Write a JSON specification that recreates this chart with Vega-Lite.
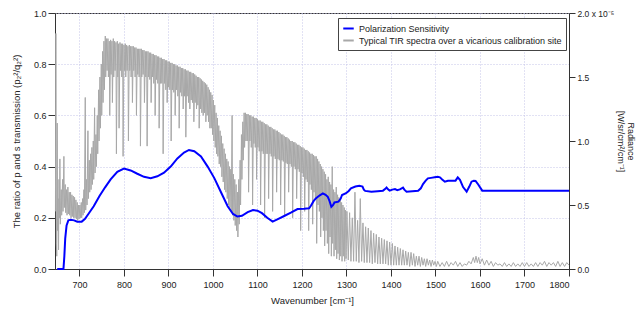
{
"$schema": "https://vega.github.io/schema/vega-lite/v6.json",
"width": 514, "height": 256,
"autosize": "none",
"padding": {"left": 55, "top": 13, "right": 75, "bottom": 44},
"background": "white",
"config": {
 "font": "Liberation Sans",
 "view": {"stroke": "#333", "strokeWidth": 1},
 "axis": {"labelFont": "Liberation Sans", "titleFont": "Liberation Sans", "labelFontSize": 9, "titleFontSize": 9.5, "titleFontWeight": "normal", "labelColor": "#222", "titleColor": "#222", "domainColor": "#333", "tickColor": "#333", "tickSize": 7, "gridColor": "#c4c4e8", "gridDash": [1, 2], "gridWidth": 1}
},
"datasets": {
 "spectrum": [
{"wn":646,"rad":0.45},{"wn":647,"rad":1.84},{"wn":648,"rad":0.2},{"wn":649,"rad":0.1},{"wn":650,"rad":1.14},{"wn":651,"rad":0.3},{"wn":652,"rad":0.55},{"wn":653,"rad":0.15},{"wn":654,"rad":0.7},{"wn":655,"rad":0.4},{"wn":656,"rad":0.86},{"wn":657,"rad":0.35},{"wn":659,"rad":0.62},{"wn":660,"rad":0.42},{"wn":662,"rad":0.7},{"wn":663,"rad":0.45},{"wn":665,"rad":0.88},{"wn":666,"rad":0.48},{"wn":668,"rad":0.66},{"wn":669,"rad":0.44},{"wn":671,"rad":0.62},{"wn":672,"rad":0.42},{"wn":674,"rad":0.64},{"wn":675,"rad":0.43},{"wn":677,"rad":0.6},{"wn":678,"rad":0.42},{"wn":680,"rad":0.6},{"wn":681,"rad":0.4},{"wn":683,"rad":0.58},{"wn":684,"rad":0.41},{"wn":686,"rad":0.57},{"wn":687,"rad":0.4},{"wn":689,"rad":0.56},{"wn":690,"rad":0.4},{"wn":692,"rad":0.54},{"wn":693,"rad":0.39},{"wn":695,"rad":0.52},{"wn":696,"rad":0.38},{"wn":698,"rad":0.5},{"wn":699,"rad":0.39},{"wn":701,"rad":0.5},{"wn":702,"rad":0.4},{"wn":704,"rad":0.52},{"wn":705,"rad":0.4},{"wn":707,"rad":0.55},{"wn":708,"rad":0.42},{"wn":710,"rad":0.62},{"wn":711,"rad":0.44},{"wn":713,"rad":1.34},{"wn":714,"rad":0.46},{"wn":716,"rad":0.7},{"wn":717,"rad":0.5},{"wn":719,"rad":1.08},{"wn":720,"rad":0.55},{"wn":722,"rad":0.85},{"wn":723,"rad":0.6},{"wn":725,"rad":0.9},{"wn":726,"rad":0.62},{"wn":728,"rad":0.95},{"wn":729,"rad":0.66},{"wn":731,"rad":1.0},{"wn":732,"rad":0.7},{"wn":734,"rad":1.26},{"wn":735,"rad":0.75},{"wn":737,"rad":1.05},{"wn":738,"rad":0.8},{"wn":740,"rad":1.2},{"wn":741,"rad":0.9},{"wn":743,"rad":1.4},{"wn":744,"rad":1.0},{"wn":746,"rad":1.5},{"wn":747,"rad":1.1},{"wn":749,"rad":1.6},{"wn":750,"rad":1.2},{"wn":752,"rad":1.7},{"wn":753,"rad":1.3},{"wn":755,"rad":1.78},{"wn":756,"rad":1.4},{"wn":758,"rad":1.82},{"wn":759,"rad":1.5},{"wn":761,"rad":1.8},{"wn":762,"rad":1.55},{"wn":764,"rad":1.8},{"wn":765,"rad":1.5},{"wn":767,"rad":1.78},{"wn":768,"rad":1.2},{"wn":770,"rad":1.79},{"wn":771,"rad":1.52},{"wn":773,"rad":1.78},{"wn":774,"rad":1.3},{"wn":776,"rad":1.8},{"wn":777,"rad":1.5},{"wn":779,"rad":1.78},{"wn":780,"rad":1.55},{"wn":782,"rad":1.77},{"wn":783,"rad":0.9},{"wn":785,"rad":1.78},{"wn":786,"rad":1.5},{"wn":788,"rad":1.76},{"wn":789,"rad":1.1},{"wn":791,"rad":1.77},{"wn":792,"rad":1.55},{"wn":794,"rad":1.76},{"wn":795,"rad":1.5},{"wn":797,"rad":1.76},{"wn":798,"rad":0.88},{"wn":800,"rad":1.75},{"wn":801,"rad":1.55},{"wn":803,"rad":1.76},{"wn":804,"rad":1.5},{"wn":806,"rad":1.75},{"wn":807,"rad":1.55},{"wn":809,"rad":1.74},{"wn":810,"rad":1.0},{"wn":812,"rad":1.75},{"wn":813,"rad":1.55},{"wn":815,"rad":1.74},{"wn":816,"rad":1.5},{"wn":818,"rad":1.74},{"wn":819,"rad":1.3},{"wn":821,"rad":1.74},{"wn":822,"rad":1.55},{"wn":824,"rad":1.73},{"wn":825,"rad":1.5},{"wn":827,"rad":1.73},{"wn":828,"rad":1.2},{"wn":830,"rad":1.72},{"wn":831,"rad":1.52},{"wn":833,"rad":1.72},{"wn":834,"rad":1.5},{"wn":836,"rad":1.72},{"wn":837,"rad":0.96},{"wn":839,"rad":1.72},{"wn":840,"rad":1.5},{"wn":842,"rad":1.71},{"wn":843,"rad":1.52},{"wn":845,"rad":1.71},{"wn":846,"rad":1.3},{"wn":848,"rad":1.7},{"wn":849,"rad":1.5},{"wn":851,"rad":1.7},{"wn":852,"rad":0.96},{"wn":854,"rad":1.7},{"wn":855,"rad":1.5},{"wn":857,"rad":1.69},{"wn":858,"rad":1.48},{"wn":860,"rad":1.69},{"wn":861,"rad":1.3},{"wn":863,"rad":1.68},{"wn":864,"rad":1.5},{"wn":866,"rad":1.68},{"wn":867,"rad":1.45},{"wn":869,"rad":1.67},{"wn":870,"rad":1.2},{"wn":872,"rad":1.67},{"wn":873,"rad":1.48},{"wn":875,"rad":1.66},{"wn":876,"rad":1.45},{"wn":878,"rad":1.66},{"wn":879,"rad":1.1},{"wn":881,"rad":1.65},{"wn":882,"rad":1.45},{"wn":884,"rad":1.65},{"wn":885,"rad":1.45},{"wn":887,"rad":1.64},{"wn":888,"rad":0.9},{"wn":890,"rad":1.64},{"wn":891,"rad":1.45},{"wn":893,"rad":1.63},{"wn":894,"rad":1.4},{"wn":896,"rad":1.63},{"wn":897,"rad":1.3},{"wn":899,"rad":1.62},{"wn":900,"rad":1.42},{"wn":902,"rad":1.62},{"wn":903,"rad":1.4},{"wn":905,"rad":1.61},{"wn":906,"rad":1.0},{"wn":908,"rad":1.61},{"wn":909,"rad":1.4},{"wn":911,"rad":1.6},{"wn":912,"rad":1.38},{"wn":914,"rad":1.6},{"wn":915,"rad":1.2},{"wn":917,"rad":1.59},{"wn":918,"rad":1.4},{"wn":920,"rad":1.59},{"wn":921,"rad":1.35},{"wn":923,"rad":1.58},{"wn":924,"rad":1.1},{"wn":926,"rad":1.58},{"wn":927,"rad":1.38},{"wn":929,"rad":1.57},{"wn":930,"rad":1.35},{"wn":932,"rad":1.57},{"wn":933,"rad":1.25},{"wn":935,"rad":1.56},{"wn":936,"rad":1.35},{"wn":938,"rad":1.56},{"wn":939,"rad":1.03},{"wn":941,"rad":1.55},{"wn":942,"rad":1.35},{"wn":944,"rad":1.55},{"wn":945,"rad":1.3},{"wn":947,"rad":1.54},{"wn":948,"rad":1.25},{"wn":950,"rad":1.54},{"wn":951,"rad":1.32},{"wn":953,"rad":1.53},{"wn":954,"rad":1.3},{"wn":956,"rad":1.53},{"wn":957,"rad":1.15},{"wn":959,"rad":1.52},{"wn":960,"rad":1.3},{"wn":962,"rad":1.51},{"wn":963,"rad":1.25},{"wn":965,"rad":1.5},{"wn":966,"rad":1.28},{"wn":968,"rad":1.5},{"wn":969,"rad":1.1},{"wn":971,"rad":1.49},{"wn":972,"rad":1.25},{"wn":974,"rad":1.48},{"wn":975,"rad":1.22},{"wn":977,"rad":1.47},{"wn":978,"rad":1.2},{"wn":980,"rad":1.46},{"wn":981,"rad":1.22},{"wn":983,"rad":1.45},{"wn":984,"rad":1.15},{"wn":986,"rad":1.44},{"wn":987,"rad":1.2},{"wn":989,"rad":1.42},{"wn":990,"rad":1.15},{"wn":992,"rad":1.4},{"wn":993,"rad":1.1},{"wn":995,"rad":1.38},{"wn":996,"rad":1.1},{"wn":998,"rad":1.36},{"wn":999,"rad":1.05},{"wn":1001,"rad":1.32},{"wn":1002,"rad":1.0},{"wn":1004,"rad":1.28},{"wn":1005,"rad":0.95},{"wn":1007,"rad":1.22},{"wn":1008,"rad":0.9},{"wn":1010,"rad":1.18},{"wn":1011,"rad":0.88},{"wn":1013,"rad":1.12},{"wn":1014,"rad":0.82},{"wn":1016,"rad":1.08},{"wn":1017,"rad":0.8},{"wn":1019,"rad":1.04},{"wn":1020,"rad":0.72},{"wn":1022,"rad":0.98},{"wn":1023,"rad":0.68},{"wn":1025,"rad":0.94},{"wn":1026,"rad":0.62},{"wn":1028,"rad":0.9},{"wn":1029,"rad":0.6},{"wn":1031,"rad":0.86},{"wn":1032,"rad":0.55},{"wn":1034,"rad":0.84},{"wn":1035,"rad":0.5},{"wn":1037,"rad":0.8},{"wn":1038,"rad":0.48},{"wn":1040,"rad":0.78},{"wn":1041,"rad":0.45},{"wn":1043,"rad":1.2},{"wn":1044,"rad":0.42},{"wn":1046,"rad":0.74},{"wn":1047,"rad":0.38},{"wn":1049,"rad":0.7},{"wn":1050,"rad":0.34},{"wn":1052,"rad":0.66},{"wn":1053,"rad":0.3},{"wn":1055,"rad":0.6},{"wn":1056,"rad":0.25},{"wn":1058,"rad":0.7},{"wn":1059,"rad":0.35},{"wn":1061,"rad":0.85},{"wn":1062,"rad":0.5},{"wn":1064,"rad":1.05},{"wn":1065,"rad":0.7},{"wn":1067,"rad":1.15},{"wn":1068,"rad":0.85},{"wn":1070,"rad":1.22},{"wn":1071,"rad":0.95},{"wn":1073,"rad":1.22},{"wn":1074,"rad":1.0},{"wn":1076,"rad":1.21},{"wn":1077,"rad":1.0},{"wn":1079,"rad":1.21},{"wn":1080,"rad":0.6},{"wn":1082,"rad":1.2},{"wn":1083,"rad":1.0},{"wn":1085,"rad":1.2},{"wn":1086,"rad":0.95},{"wn":1088,"rad":1.19},{"wn":1089,"rad":0.5},{"wn":1091,"rad":1.19},{"wn":1092,"rad":0.98},{"wn":1094,"rad":1.18},{"wn":1095,"rad":0.95},{"wn":1097,"rad":1.18},{"wn":1098,"rad":0.7},{"wn":1100,"rad":1.17},{"wn":1101,"rad":0.95},{"wn":1103,"rad":1.16},{"wn":1104,"rad":0.92},{"wn":1106,"rad":1.16},{"wn":1107,"rad":0.5},{"wn":1109,"rad":1.15},{"wn":1110,"rad":0.92},{"wn":1112,"rad":1.15},{"wn":1113,"rad":0.9},{"wn":1115,"rad":1.14},{"wn":1116,"rad":0.4},{"wn":1118,"rad":1.13},{"wn":1119,"rad":0.9},{"wn":1121,"rad":1.13},{"wn":1122,"rad":0.9},{"wn":1124,"rad":1.12},{"wn":1125,"rad":0.55},{"wn":1127,"rad":1.11},{"wn":1128,"rad":0.9},{"wn":1130,"rad":1.11},{"wn":1131,"rad":0.88},{"wn":1133,"rad":1.1},{"wn":1134,"rad":0.45},{"wn":1136,"rad":1.09},{"wn":1137,"rad":0.88},{"wn":1139,"rad":1.09},{"wn":1140,"rad":0.86},{"wn":1142,"rad":1.08},{"wn":1143,"rad":0.6},{"wn":1145,"rad":1.08},{"wn":1146,"rad":0.86},{"wn":1148,"rad":1.07},{"wn":1149,"rad":0.85},{"wn":1151,"rad":1.06},{"wn":1152,"rad":0.5},{"wn":1154,"rad":1.05},{"wn":1155,"rad":0.85},{"wn":1157,"rad":1.05},{"wn":1158,"rad":0.84},{"wn":1160,"rad":1.04},{"wn":1161,"rad":0.42},{"wn":1163,"rad":1.03},{"wn":1164,"rad":0.83},{"wn":1166,"rad":1.03},{"wn":1167,"rad":0.82},{"wn":1169,"rad":1.02},{"wn":1170,"rad":0.6},{"wn":1172,"rad":1.01},{"wn":1173,"rad":0.82},{"wn":1175,"rad":1.0},{"wn":1176,"rad":0.8},{"wn":1178,"rad":1.0},{"wn":1179,"rad":0.4},{"wn":1181,"rad":0.99},{"wn":1182,"rad":0.8},{"wn":1184,"rad":0.99},{"wn":1185,"rad":0.78},{"wn":1187,"rad":0.98},{"wn":1188,"rad":0.55},{"wn":1190,"rad":0.97},{"wn":1191,"rad":0.78},{"wn":1193,"rad":0.97},{"wn":1194,"rad":0.76},{"wn":1196,"rad":0.96},{"wn":1197,"rad":0.3},{"wn":1199,"rad":0.95},{"wn":1200,"rad":0.75},{"wn":1202,"rad":0.95},{"wn":1203,"rad":0.72},{"wn":1205,"rad":0.94},{"wn":1206,"rad":0.45},{"wn":1208,"rad":0.93},{"wn":1209,"rad":0.7},{"wn":1211,"rad":0.93},{"wn":1212,"rad":0.68},{"wn":1214,"rad":0.92},{"wn":1215,"rad":0.3},{"wn":1217,"rad":0.91},{"wn":1218,"rad":0.66},{"wn":1220,"rad":0.9},{"wn":1221,"rad":0.62},{"wn":1223,"rad":0.9},{"wn":1224,"rad":0.35},{"wn":1226,"rad":0.89},{"wn":1227,"rad":0.6},{"wn":1229,"rad":0.88},{"wn":1230,"rad":0.55},{"wn":1232,"rad":0.88},{"wn":1233,"rad":0.2},{"wn":1235,"rad":0.86},{"wn":1236,"rad":0.5},{"wn":1238,"rad":0.84},{"wn":1239,"rad":0.45},{"wn":1241,"rad":0.82},{"wn":1242,"rad":0.25},{"wn":1244,"rad":0.8},{"wn":1245,"rad":0.4},{"wn":1247,"rad":0.78},{"wn":1248,"rad":0.3},{"wn":1250,"rad":0.76},{"wn":1251,"rad":0.18},{"wn":1253,"rad":0.74},{"wn":1254,"rad":0.3},{"wn":1256,"rad":0.7},{"wn":1257,"rad":0.2},{"wn":1259,"rad":0.72},{"wn":1260,"rad":0.12},{"wn":1262,"rad":0.68},{"wn":1263,"rad":0.25},{"wn":1265,"rad":0.66},{"wn":1266,"rad":0.1},{"wn":1268,"rad":0.8},{"wn":1269,"rad":0.2},{"wn":1271,"rad":0.62},{"wn":1272,"rad":0.1},{"wn":1274,"rad":0.6},{"wn":1275,"rad":0.15},{"wn":1277,"rad":0.64},{"wn":1278,"rad":0.08},{"wn":1280,"rad":0.58},{"wn":1281,"rad":0.12},{"wn":1283,"rad":0.56},{"wn":1284,"rad":0.07},{"wn":1286,"rad":0.55},{"wn":1287,"rad":0.1},{"wn":1289,"rad":0.52},{"wn":1290,"rad":0.06},{"wn":1292,"rad":0.5},{"wn":1293,"rad":0.1},{"wn":1295,"rad":0.48},{"wn":1296,"rad":0.06},{"wn":1298,"rad":0.46},{"wn":1299,"rad":0.08},{"wn":1301,"rad":0.45},{"wn":1304,"rad":0.07},{"wn":1307,"rad":0.44},{"wn":1310,"rad":0.06},{"wn":1313,"rad":0.4},{"wn":1316,"rad":0.06},{"wn":1319,"rad":0.6},{"wn":1322,"rad":0.06},{"wn":1325,"rad":0.38},{"wn":1328,"rad":0.05},{"wn":1331,"rad":0.55},{"wn":1334,"rad":0.06},{"wn":1337,"rad":0.36},{"wn":1340,"rad":0.05},{"wn":1343,"rad":0.33},{"wn":1346,"rad":0.05},{"wn":1349,"rad":0.32},{"wn":1352,"rad":0.05},{"wn":1355,"rad":0.3},{"wn":1358,"rad":0.04},{"wn":1361,"rad":0.28},{"wn":1364,"rad":0.05},{"wn":1367,"rad":0.27},{"wn":1370,"rad":0.04},{"wn":1373,"rad":0.25},{"wn":1376,"rad":0.04},{"wn":1379,"rad":0.24},{"wn":1382,"rad":0.04},{"wn":1385,"rad":0.23},{"wn":1388,"rad":0.04},{"wn":1391,"rad":0.22},{"wn":1394,"rad":0.03},{"wn":1397,"rad":0.21},{"wn":1400,"rad":0.03},{"wn":1403,"rad":0.2},{"wn":1406,"rad":0.03},{"wn":1409,"rad":0.18},{"wn":1412,"rad":0.03},{"wn":1415,"rad":0.17},{"wn":1418,"rad":0.03},{"wn":1421,"rad":0.16},{"wn":1424,"rad":0.03},{"wn":1427,"rad":0.15},{"wn":1430,"rad":0.03},{"wn":1433,"rad":0.14},{"wn":1436,"rad":0.03},{"wn":1439,"rad":0.13},{"wn":1442,"rad":0.02},{"wn":1445,"rad":0.13},{"wn":1448,"rad":0.03},{"wn":1451,"rad":0.12},{"wn":1454,"rad":0.02},{"wn":1457,"rad":0.1},{"wn":1460,"rad":0.03},{"wn":1463,"rad":0.1},{"wn":1466,"rad":0.02},{"wn":1469,"rad":0.09},{"wn":1472,"rad":0.03},{"wn":1475,"rad":0.08},{"wn":1478,"rad":0.02},{"wn":1481,"rad":0.08},{"wn":1484,"rad":0.03},{"wn":1487,"rad":0.07},{"wn":1490,"rad":0.02},{"wn":1493,"rad":0.07},{"wn":1496,"rad":0.03},{"wn":1499,"rad":0.06},{"wn":1502,"rad":0.02},{"wn":1505,"rad":0.06},{"wn":1510,"rad":0.02},{"wn":1515,"rad":0.05},{"wn":1520,"rad":0.02},{"wn":1525,"rad":0.06},{"wn":1530,"rad":0.02},{"wn":1535,"rad":0.05},{"wn":1540,"rad":0.03},{"wn":1545,"rad":0.06},{"wn":1550,"rad":0.02},{"wn":1555,"rad":0.05},{"wn":1560,"rad":0.02},{"wn":1565,"rad":0.04},{"wn":1570,"rad":0.03},{"wn":1575,"rad":0.06},{"wn":1580,"rad":0.04},{"wn":1585,"rad":0.09},{"wn":1588,"rad":0.05},{"wn":1591,"rad":0.1},{"wn":1594,"rad":0.05},{"wn":1597,"rad":0.09},{"wn":1600,"rad":0.04},{"wn":1605,"rad":0.08},{"wn":1610,"rad":0.03},{"wn":1615,"rad":0.07},{"wn":1620,"rad":0.03},{"wn":1625,"rad":0.06},{"wn":1630,"rad":0.02},{"wn":1635,"rad":0.05},{"wn":1640,"rad":0.03},{"wn":1645,"rad":0.04},{"wn":1650,"rad":0.02},{"wn":1655,"rad":0.05},{"wn":1660,"rad":0.02},{"wn":1665,"rad":0.04},{"wn":1670,"rad":0.02},{"wn":1675,"rad":0.05},{"wn":1680,"rad":0.02},{"wn":1685,"rad":0.04},{"wn":1690,"rad":0.02},{"wn":1695,"rad":0.05},{"wn":1700,"rad":0.02},{"wn":1705,"rad":0.05},{"wn":1710,"rad":0.02},{"wn":1715,"rad":0.04},{"wn":1720,"rad":0.02},{"wn":1725,"rad":0.05},{"wn":1730,"rad":0.02},{"wn":1735,"rad":0.05},{"wn":1740,"rad":0.03},{"wn":1745,"rad":0.06},{"wn":1750,"rad":0.02},{"wn":1755,"rad":0.05},{"wn":1760,"rad":0.03},{"wn":1765,"rad":0.05},{"wn":1770,"rad":0.02},{"wn":1775,"rad":0.06},{"wn":1780,"rad":0.02},{"wn":1785,"rad":0.05},{"wn":1790,"rad":0.02},{"wn":1795,"rad":0.05},{"wn":1800,"rad":0.03}
 ],
 "polarization": [
{"wn":650,"ratio":0},{"wn":664,"ratio":0},{"wn":666,"ratio":0.05},{"wn":668,"ratio":0.12},{"wn":671,"ratio":0.17},{"wn":675,"ratio":0.19},{"wn":680,"ratio":0.192},{"wn":688,"ratio":0.19},{"wn":695,"ratio":0.185},{"wn":705,"ratio":0.185},{"wn":712,"ratio":0.195},{"wn":720,"ratio":0.215},{"wn":732,"ratio":0.245},{"wn":745,"ratio":0.285},{"wn":758,"ratio":0.32},{"wn":770,"ratio":0.35},{"wn":785,"ratio":0.38},{"wn":800,"ratio":0.392},{"wn":815,"ratio":0.385},{"wn":830,"ratio":0.372},{"wn":845,"ratio":0.36},{"wn":860,"ratio":0.355},{"wn":875,"ratio":0.362},{"wn":890,"ratio":0.376},{"wn":905,"ratio":0.4},{"wn":920,"ratio":0.432},{"wn":935,"ratio":0.455},{"wn":946,"ratio":0.465},{"wn":958,"ratio":0.46},{"wn":973,"ratio":0.44},{"wn":988,"ratio":0.4},{"wn":1003,"ratio":0.355},{"wn":1018,"ratio":0.3},{"wn":1033,"ratio":0.245},{"wn":1045,"ratio":0.215},{"wn":1055,"ratio":0.205},{"wn":1065,"ratio":0.208},{"wn":1078,"ratio":0.222},{"wn":1090,"ratio":0.23},{"wn":1100,"ratio":0.228},{"wn":1110,"ratio":0.218},{"wn":1122,"ratio":0.2},{"wn":1134,"ratio":0.185},{"wn":1147,"ratio":0.196},{"wn":1160,"ratio":0.207},{"wn":1175,"ratio":0.22},{"wn":1190,"ratio":0.234},{"wn":1205,"ratio":0.235},{"wn":1216,"ratio":0.237},{"wn":1220,"ratio":0.247},{"wn":1226,"ratio":0.265},{"wn":1231,"ratio":0.276},{"wn":1240,"ratio":0.288},{"wn":1247,"ratio":0.295},{"wn":1253,"ratio":0.29},{"wn":1258,"ratio":0.282},{"wn":1262,"ratio":0.265},{"wn":1266,"ratio":0.243},{"wn":1270,"ratio":0.25},{"wn":1273,"ratio":0.26},{"wn":1282,"ratio":0.263},{"wn":1287,"ratio":0.275},{"wn":1290,"ratio":0.289},{"wn":1299,"ratio":0.296},{"wn":1305,"ratio":0.305},{"wn":1310,"ratio":0.315},{"wn":1320,"ratio":0.322},{"wn":1329,"ratio":0.325},{"wn":1336,"ratio":0.322},{"wn":1339,"ratio":0.31},{"wn":1342,"ratio":0.305},{"wn":1356,"ratio":0.302},{"wn":1370,"ratio":0.304},{"wn":1382,"ratio":0.306},{"wn":1388,"ratio":0.314},{"wn":1390,"ratio":0.318},{"wn":1394,"ratio":0.31},{"wn":1397,"ratio":0.306},{"wn":1403,"ratio":0.31},{"wn":1409,"ratio":0.312},{"wn":1414,"ratio":0.308},{"wn":1420,"ratio":0.311},{"wn":1425,"ratio":0.316},{"wn":1427,"ratio":0.318},{"wn":1430,"ratio":0.31},{"wn":1435,"ratio":0.302},{"wn":1461,"ratio":0.306},{"wn":1467,"ratio":0.315},{"wn":1472,"ratio":0.332},{"wn":1478,"ratio":0.345},{"wn":1483,"ratio":0.354},{"wn":1490,"ratio":0.356},{"wn":1498,"ratio":0.358},{"wn":1505,"ratio":0.36},{"wn":1510,"ratio":0.358},{"wn":1515,"ratio":0.35},{"wn":1521,"ratio":0.341},{"wn":1528,"ratio":0.345},{"wn":1536,"ratio":0.345},{"wn":1545,"ratio":0.345},{"wn":1550,"ratio":0.358},{"wn":1555,"ratio":0.348},{"wn":1562,"ratio":0.32},{"wn":1570,"ratio":0.302},{"wn":1576,"ratio":0.322},{"wn":1581,"ratio":0.341},{"wn":1586,"ratio":0.345},{"wn":1590,"ratio":0.344},{"wn":1596,"ratio":0.33},{"wn":1605,"ratio":0.306},{"wn":1800,"ratio":0.306}
 ]
},
"encoding": {
 "x": {"field": "wn", "type": "quantitative", "scale": {"domain": [645, 1800], "nice": false, "zero": false},
  "axis": {"title": "Wavenumber [cm⁻¹]", "values": [700,800,900,1000,1100,1200,1300,1400,1500,1600,1700,1800], "format": "d", "labelPadding": 4, "titlePadding": 6, "grid": true}}
},
"layer": [
 {
  "data": {"name": "spectrum"},
  "mark": {"type": "line", "strokeWidth": 1, "interpolate": "linear"},
  "encoding": {
   "y": {"field": "rad", "type": "quantitative", "scale": {"domain": [0, 2], "nice": false},
    "axis": {"orient": "right", "title": ["Radiance", "[W/sr/cm²/cm⁻¹]"], "titleAngle": 90, "titleFontSize": 9, "titleLineHeight": 10, "values": [0, 0.5, 1, 1.5, 2], "grid": false, "tickSize": 6, "labelPadding": 2, "labelFontSize": 8.5, "titlePadding": 2,
     "labelExpr": "datum.value == 2 ? '2.0 x 10⁻⁵' : format(datum.value, '.1f')"}},
   "color": {"datum": "Typical TIR spectra over a vicarious calibration site", "type": "nominal"}
  }
 },
 {
  "data": {"name": "polarization"},
  "mark": {"type": "line", "strokeWidth": 2},
  "encoding": {
   "y": {"field": "ratio", "type": "quantitative", "scale": {"domain": [0, 1], "nice": false},
    "axis": {"orient": "left", "title": "The ratio of p and s transmission (p₂²/q₂²)", "values": [0, 0.2, 0.4, 0.6, 0.8, 1], "format": ".1f", "grid": true, "labelPadding": 2, "titlePadding": 12}},
   "color": {"datum": "Polarization Sensitivity", "type": "nominal",
    "scale": {"domain": ["Polarization Sensitivity", "Typical TIR spectra over a vicarious calibration site"], "range": ["#0000ff", "#a8a8a8"]},
    "legend": {"title": null, "orient": "none", "legendX": 283, "legendY": 5, "symbolType": "stroke", "symbolSize": 110, "symbolStrokeWidth": 2, "labelFontSize": 9, "labelFont": "Liberation Sans", "labelColor": "#222", "labelLimit": 0, "rowPadding": -1, "padding": 4, "strokeColor": "#444", "fillColor": "white", "labelOffset": 4}}
  }
 }
],
"resolve": {"scale": {"y": "independent"}}
}
